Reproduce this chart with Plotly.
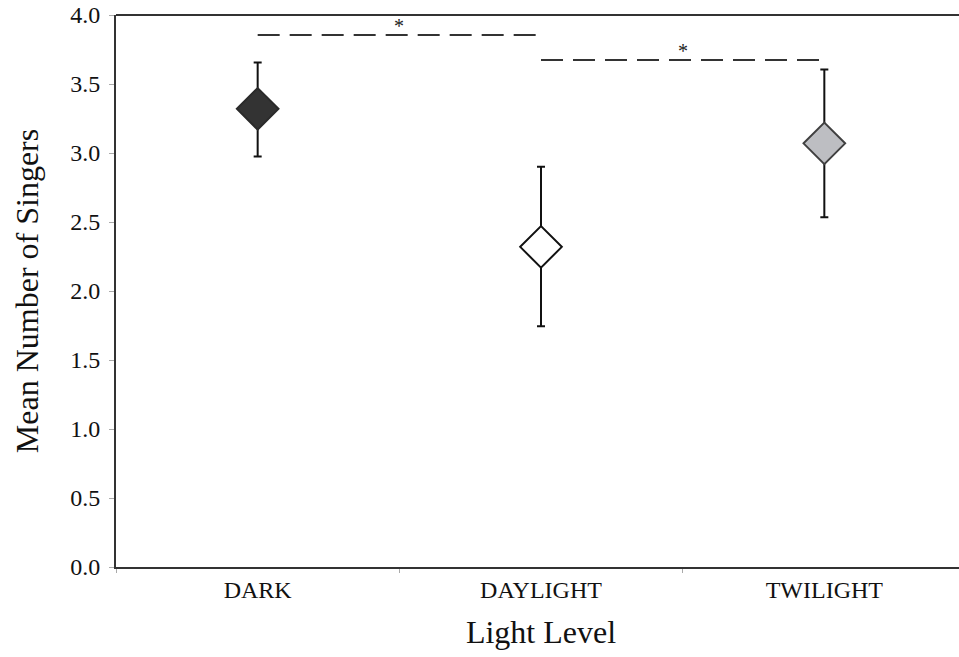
import plotly.graph_objects as go

categories = ["DARK", "DAYLIGHT", "TWILIGHT"]
means = [3.32, 2.32, 3.07]
err_plus = [0.335, 0.58, 0.535]
err_minus = [0.345, 0.575, 0.535]
fill_colors = ["#333333", "#ffffff", "#bdbec2"]
edge_colors = ["#2a2a2a", "#111111", "#404040"]

sig_pairs = [("DARK", "DAYLIGHT"), ("DAYLIGHT", "TWILIGHT")]
sig_levels = [3.855, 3.674]
sig_labels = ["*", "*"]

font_family = "Liberation Serif, Times New Roman, serif"

fig = go.Figure()

for (a, b), lvl in zip(sig_pairs, sig_levels):
    fig.add_trace(go.Scatter(
        x=[a, b], y=[lvl, lvl], mode="lines",
        line=dict(color="#333333", width=2, dash="22px,10px"),
        showlegend=False, hoverinfo="skip"))

for i, c in enumerate(categories):
    fig.add_trace(go.Scatter(
        x=[c], y=[means[i]], mode="markers",
        marker=dict(symbol="diamond", size=32, color=fill_colors[i],
                    line=dict(color=edge_colors[i], width=2)),
        error_y=dict(type="data", symmetric=False, array=[err_plus[i]],
                     arrayminus=[err_minus[i]], color="#111111",
                     thickness=2, width=4),
        showlegend=False))

for k, ((a, b), lvl) in enumerate(zip(sig_pairs, sig_levels)):
    xm = (categories.index(a) + categories.index(b)) / 2
    fig.add_annotation(x=xm, y=lvl, text=sig_labels[k], showarrow=False,
                       yanchor="bottom", yshift=-4,
                       font=dict(family=font_family, size=20, color="#222222"))

# top frame line of the plot area
fig.add_shape(type="line", xref="paper", yref="paper", x0=0, x1=1, y0=1, y1=1,
              line=dict(color="#333333", width=2))

fig.update_layout(
    width=966, height=657,
    margin=dict(l=116, r=0, t=15, b=90),
    paper_bgcolor="white", plot_bgcolor="white",
    font=dict(family=font_family, color="#222222"),
    xaxis=dict(
        type="category", categoryorder="array", categoryarray=categories,
        range=[-0.5, 2.5], tickson="boundaries",
        ticks="outside", ticklen=4, tickcolor="#aaaaaa",
        showline=True, linecolor="#333333", linewidth=2, mirror=False,
        showgrid=False, zeroline=False,
        tickfont=dict(size=24, family=font_family, color="#111"),
        title=dict(text="Light Level", font=dict(size=32, family=font_family, color="#111"),
                   standoff=19),
    ),
    yaxis=dict(
        range=[0, 4], dtick=0.5, tickformat=".1f",
        ticks="outside", ticklen=5, tickcolor="#aaaaaa",
        ticklabelstandoff=4,
        showline=True, linecolor="#333333", linewidth=2,
        showgrid=False, zeroline=False,
        tickfont=dict(size=24, family=font_family, color="#111"),
        title=dict(text="Mean Number of Singers", font=dict(size=32, family=font_family, color="#111"),
                   standoff=22),
    ),
)

fig.write_html("out.html", config={"displayModeBar": False},
               post_script="document.body.style.margin='0';document.body.style.overflow='hidden';")
